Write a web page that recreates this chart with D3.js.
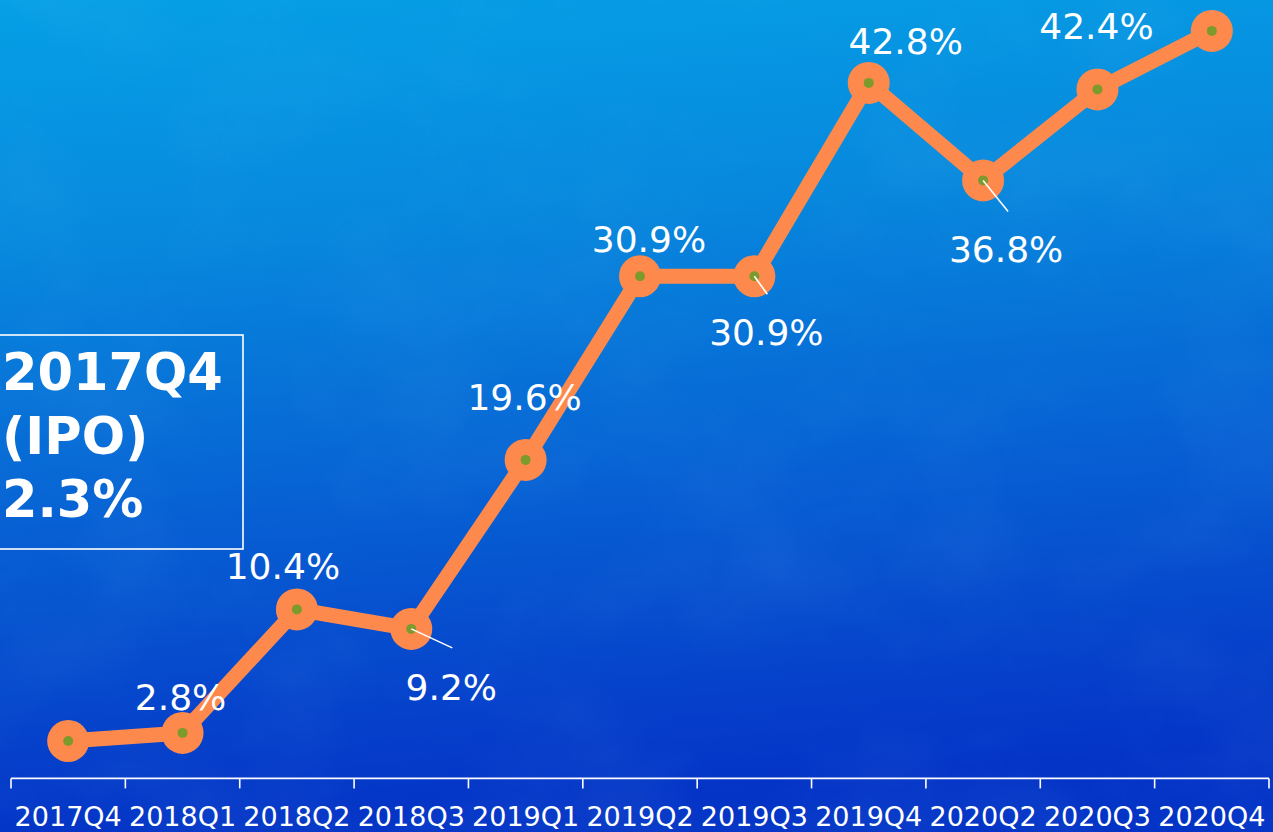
<!DOCTYPE html>
<html>
<head>
<meta charset="utf-8">
<script src="https://cdn.jsdelivr.net/npm/d3@7"></script>
<style>
  html, body { margin: 0; padding: 0; background: #0660d4; }
  svg { display: block; }
</style>
</head>
<body>
<svg id="chart" width="1273" height="832"></svg>
<script>
// Quarterly share (%) since the IPO
const quarters = ["2017Q4", "2018Q1", "2018Q2", "2018Q3", "2019Q1", "2019Q2",
                  "2019Q3", "2019Q4", "2020Q2", "2020Q3", "2020Q4"];
const shares = [2.3, 2.8, 10.4, 9.2, 19.6, 30.9, 30.9, 42.8, 36.8, 42.4, 46.0];
const shareLabels = [null, "2.8%", "10.4%", "9.2%", "19.6%", "30.9%",
                     "30.9%", "42.8%", "36.8%", "42.4%", null];
const ipoCallout = ["2017Q4", "(IPO)", "2.3%"];

// Label placement relative to each point: text offset and optional leader end
const labelPlacement = [
  null,
  { dx: -2, dy: -23 },
  { dx: -14, dy: -30 },
  { dx: 40, dy: 71, lx: 41, ly: 19 },
  { dx: -1, dy: -50 },
  { dx: 9, dy: -24 },
  { dx: 12, dy: 69, lx: 13, ly: 18 },
  { dx: 37, dy: -29 },
  { dx: 23, dy: 82, lx: 25, ly: 31 },
  { dx: -1, dy: -50 },
  null
];

const W = 1273, H = 832;
const svg = d3.select("#chart");
const defs = svg.append("defs");

// Deep blue backdrop, lighter towards the top
const grad = defs.append("linearGradient")
  .attr("id", "bg").attr("x1", 0).attr("y1", 0).attr("x2", 0.12).attr("y2", 1);
[[0, "#05a0e6"], [0.3, "#0788dd"], [0.6, "#0764d4"], [0.85, "#0645cc"], [1, "#0434c6"]]
  .forEach(([o, c]) => grad.append("stop").attr("offset", o).attr("stop-color", c));

// Faint cloudy texture
const cloud = defs.append("filter").attr("id", "cloud")
  .attr("x", 0).attr("y", 0).attr("width", 1).attr("height", 1);
cloud.append("feTurbulence").attr("type", "fractalNoise")
  .attr("baseFrequency", "0.006 0.008").attr("numOctaves", 4).attr("seed", 7).attr("result", "n");
cloud.append("feColorMatrix").attr("in", "n").attr("type", "matrix")
  .attr("values", "0 0 0 0 0.2  0 0 0 0 0.55  0 0 0 0 0.95  0 0 0 0.9 -0.38");

svg.append("rect").attr("width", W).attr("height", H).attr("fill", "url(#bg)");
svg.append("rect").attr("width", W).attr("height", H).attr("filter", "url(#cloud)").attr("opacity", 0.18);

// Scales
const x = d3.scaleBand().domain(quarters).range([11, 1269]).padding(0);
const y = d3.scaleLinear().domain([0, 47.9]).range([778.4, 0]);
const cx = d => x(d) + x.bandwidth() / 2;

// Axis: baseline with ticks at band edges, labels centred under each band
const axisY = y(0);
const axis = svg.append("g").attr("transform", `translate(0,${axisY})`);
axis.append("line")
  .attr("x1", x.range()[0]).attr("x2", x.range()[1])
  .attr("stroke", "#ffffff").attr("stroke-width", 1.6);
const edges = quarters.map(q => x(q)).concat([x.range()[1]]);
axis.selectAll("line.tick").data(edges).join("line")
  .attr("class", "tick")
  .attr("x1", d => d).attr("x2", d => d)
  .attr("y1", 0).attr("y2", 10)
  .attr("stroke", "#ffffff").attr("stroke-width", 1.6);
axis.selectAll("text").data(quarters).join("text")
  .attr("x", d => cx(d)).attr("y", 48)
  .attr("text-anchor", "middle")
  .attr("font-family", "DejaVu Sans, Verdana, sans-serif")
  .attr("font-size", 27)
  .attr("fill", "#ffffff")
  .text(d => d);

// Series
const pts = quarters.map((q, i) => ({ q, v: shares[i], label: shareLabels[i], place: labelPlacement[i] }));
const orange = "#fd8a4c";

svg.append("path")
  .datum(pts)
  .attr("fill", "none")
  .attr("stroke", orange)
  .attr("stroke-width", 15)
  .attr("stroke-linejoin", "round")
  .attr("d", d3.line().x(d => cx(d.q)).y(d => y(d.v)));

svg.selectAll("circle.marker").data(pts).join("circle")
  .attr("class", "marker")
  .attr("cx", d => cx(d.q)).attr("cy", d => y(d.v))
  .attr("r", 21).attr("fill", orange);

svg.selectAll("circle.core").data(pts).join("circle")
  .attr("class", "core")
  .attr("cx", d => cx(d.q)).attr("cy", d => y(d.v))
  .attr("r", 5).attr("fill", "#7c9a2d");

// Leader lines for labels set below their points
svg.selectAll("line.leader").data(pts.filter(d => d.place && d.place.lx !== undefined)).join("line")
  .attr("class", "leader")
  .attr("x1", d => cx(d.q)).attr("y1", d => y(d.v))
  .attr("x2", d => cx(d.q) + d.place.lx).attr("y2", d => y(d.v) + d.place.ly)
  .attr("stroke", "#ffffff").attr("stroke-width", 1.6);

svg.selectAll("text.value").data(pts.filter(d => d.label)).join("text")
  .attr("class", "value")
  .attr("x", d => cx(d.q) + d.place.dx)
  .attr("y", d => y(d.v) + d.place.dy)
  .attr("text-anchor", "middle")
  .attr("font-family", "DejaVu Sans, Verdana, sans-serif")
  .attr("font-size", 36)
  .attr("fill", "#ffffff")
  .text(d => d.label);

// IPO callout box
const box = svg.append("g");
box.append("rect")
  .attr("x", -2).attr("y", 335).attr("width", 245).attr("height", 214)
  .attr("fill", "none").attr("stroke", "#ffffff").attr("stroke-width", 1.6);
box.selectAll("text").data(ipoCallout).join("text")
  .attr("x", 2)
  .attr("y", (d, i) => 390 + i * 63.5)
  .attr("font-family", "DejaVu Sans, Verdana, sans-serif")
  .attr("font-weight", "bold")
  .attr("font-size", 51)
  .attr("fill", "#ffffff")
  .text(d => d);
</script>
</body>
</html>
